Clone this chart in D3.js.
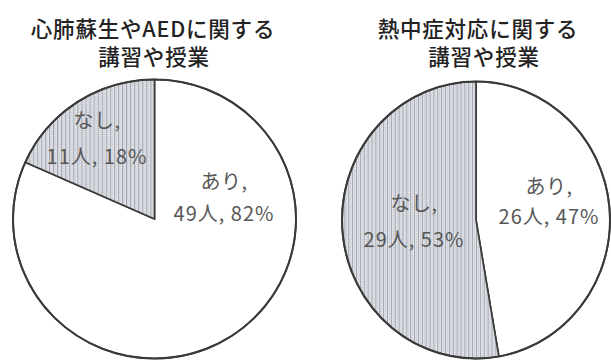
<!DOCTYPE html>
<html>
<head>
<meta charset="utf-8">
<script src="https://cdn.jsdelivr.net/npm/d3@7/dist/d3.min.js"></script>
<style>
  html, body { margin: 0; padding: 0; background: #fff; }
  svg { display: block; }
  text { font-family: "Noto Sans CJK JP", "Noto Sans", sans-serif; }
</style>
</head>
<body>
<svg id="chart" width="611" height="361"></svg>
<script>
// Survey results: whether each school held a lesson / training session
const categories = ["あり", "なし"];
const cprCounts = [49, 11];        // 心肺蘇生やAED
const heatCounts = [26, 29];       // 熱中症対応
const cprTitle = ["心肺蘇生やAEDに関する", "講習や授業"];
const heatTitle = ["熱中症対応に関する", "講習や授業"];
const unit = "人";

const svg = d3.select("#chart");

// hatched fill for the "なし" slice
const defs = svg.append("defs");
const pat = defs.append("pattern")
  .attr("id", "hatch")
  .attr("patternUnits", "userSpaceOnUse")
  .attr("width", 4).attr("height", 4);
pat.append("rect").attr("width", 4).attr("height", 4).attr("fill", "#e1e3e8");
pat.append("rect").attr("x", 0).attr("width", 1).attr("height", 4).attr("fill", "#9ea3ad");
pat.append("rect").attr("x", 2).attr("y", 1).attr("width", 1).attr("height", 1).attr("fill", "#bfc3ca");
pat.append("rect").attr("x", 2).attr("y", 3).attr("width", 1).attr("height", 1).attr("fill", "#bfc3ca");

const fills = d3.scaleOrdinal().domain(categories).range(["#ffffff", "url(#hatch)"]);

const pie = d3.pie().sort(null).value(d => d.value);

// layout: pie centre / radii, title centres and label anchors [x, y of line 1, y of line 2]
const charts = [
  { title: cprTitle, counts: cprCounts, cx: 154.5, cy: 219, rx: 141.5, ry: 139.5,
    titleX: [153, 154],
    labels: [[224, 189, 221], [97, 128, 164]] },
  { title: heatTitle, counts: heatCounts, cx: 476, cy: 220, rx: 134, ry: 138.5,
    titleX: [478, 484],
    labels: [[549, 194, 224], [414, 211, 247]] }
];

charts.forEach(c => {
  const total = d3.sum(c.counts);
  const data = categories.map((k, i) => ({ key: k, value: c.counts[i] }));
  const arcs = pie(data);
  const r = c.ry;
  const arc = d3.arc().innerRadius(0).outerRadius(r);

  const g = svg.append("g")
    .attr("transform", `translate(${c.cx},${c.cy}) scale(${c.rx / c.ry},1)`);

  g.selectAll("path.slice")
    .data(arcs)
    .join("path")
    .attr("class", "slice")
    .attr("d", arc)
    .attr("fill", d => fills(d.data.key))
    .attr("stroke", "#3a3a3a")
    .attr("stroke-width", 1.7)
    .attr("stroke-linejoin", "round")
    .attr("vector-effect", "non-scaling-stroke");

  g.append("circle")
    .attr("r", r)
    .attr("fill", "none")
    .attr("stroke", "#3a3a3a")
    .attr("stroke-width", 2)
    .attr("vector-effect", "non-scaling-stroke");

  // two-line title
  svg.append("g").selectAll("text")
    .data(c.title)
    .join("text")
    .attr("x", (d, i) => c.titleX[i])
    .attr("y", (d, i) => 37 + i * 28)
    .attr("text-anchor", "middle")
    .attr("font-size", 21.5)
    .attr("font-weight", 500)
    .attr("letter-spacing", 0.8)
    .attr("fill", "#222")
    .text(d => d);

  // slice labels: category, count and share
  arcs.forEach((a, i) => {
    const pct = Math.round(a.data.value / total * 100);
    const [lx, y1, y2] = c.labels[i];
    const t = svg.append("text")
      .attr("text-anchor", "middle")
      .attr("font-size", 20)
      .attr("fill", "#575757");
    t.append("tspan").attr("x", lx).attr("y", y1)
      .attr("letter-spacing", 0.5)
      .text(a.data.key + ",");
    t.append("tspan").attr("x", lx).attr("y", y2)
      .attr("letter-spacing", 1)
      .text(`${a.data.value}${unit}, ${pct}%`);
  });
});
</script>
</body>
</html>
